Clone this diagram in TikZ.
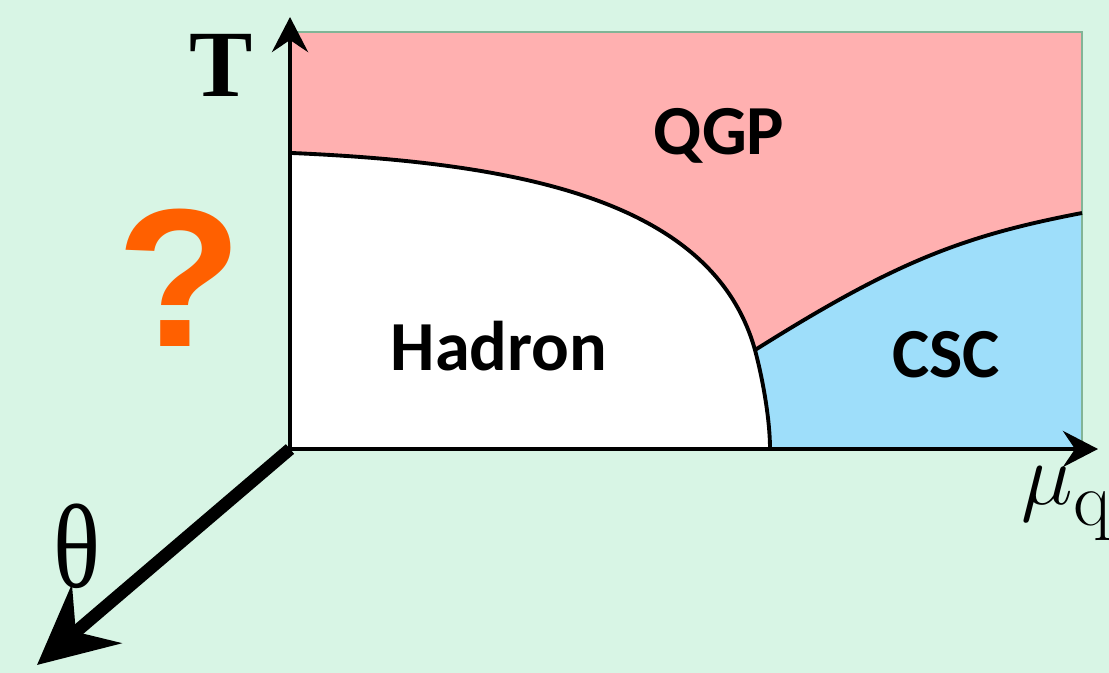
\documentclass[tikz,border=0pt]{standalone}
\usepackage{fontspec}
\newfontfamily\lblfont{Carlito}
\newfontfamily\qmfont{Liberation Sans}
\newfontfamily\thetafont{Liberation Serif}
\usetikzlibrary{arrows.meta}
\definecolor{bg}{RGB}{216,245,229}
\definecolor{qgpcol}{RGB}{255,176,176}
\definecolor{csccol}{RGB}{158,222,250}
\definecolor{qmark}{RGB}{255,96,0}
\definecolor{edgecol}{RGB}{130,180,150}
\begin{document}
\begin{tikzpicture}[x=0.01cm,y=-0.01cm,
  phase/.style={font=\lblfont\bfseries\fontsize{20}{20}\selectfont, anchor=base, inner sep=0pt},
  axisline/.style={line width=1.4pt, -{Stealth[length=3.5mm,width=3.6mm,inset=1.2mm]}},
  bound/.style={line width=1.1pt}]
\useasboundingbox (0,0) rectangle (1109,673);
\fill[bg] (0,0) rectangle (1109,673);
% key points of the boundaries
\coordinate (H0) at (292,153);
\coordinate (TP) at (755,350);
\coordinate (H1) at (770,449);
\coordinate (C1) at (1082,213);
% regions
\fill[qgpcol] (290,32) rectangle (1082,449);
\fill[csccol] (TP) .. controls (895,262) and (962,236) .. (C1) -- (1082,449) -- (745,449) -- (745,360) -- cycle;
\fill[white] (H0) .. controls (520,163) and (713,200) .. (TP) .. controls (763,380) and (770,420) .. (H1) -- (290,449) -- (290,153) -- cycle;
\draw[edgecol, line width=0.5pt] (290,32) -- (1082,32) -- (1082,449);
% boundaries
\draw[bound] (H0) .. controls (520,163) and (713,200) .. (TP) .. controls (763,380) and (770,420) .. (H1);
\draw[bound] (TP) .. controls (895,262) and (962,236) .. (C1);
% axes
\coordinate (O) at (290,449);
\coordinate (Tend) at (290,17);
\coordinate (Muend) at (1098,449);
\coordinate (Thend) at (37,665);
\draw[axisline] (O) -- (Tend);
\draw[axisline] (O) -- (Muend);
\draw[line width=3.6pt, -{Stealth[length=7.8mm,width=7.6mm,inset=2.7mm]}] (O) -- (Thend);
% labels
\node[phase] (qgp) at (719,155) {QGP};
\node[phase] (had) at (499,370) {Hadron};
\node[phase] (csc) at (946,377) {CSC};
\node[font=\thetafont\bfseries\fontsize{27}{27}\selectfont, anchor=base, inner sep=0pt] (T) at (221,97) {T};
\node[font=\thetafont\fontsize{34}{34}\selectfont, anchor=base, inner sep=0pt, xscale=0.82] (th) at (77,587) {θ};
\node[font=\qmfont\bfseries\fontsize{56}{56}\selectfont, text=qmark, anchor=base, inner sep=0pt, xscale=1.05] (qm) at (180,347) {?};
\node[anchor=base west, inner sep=0pt] (mu) at (1021,504) {\fontsize{25}{25}\selectfont$\mu$\raisebox{-0.21cm}{\fontsize{22}{22}\selectfont q}};
\end{tikzpicture}
\end{document}
